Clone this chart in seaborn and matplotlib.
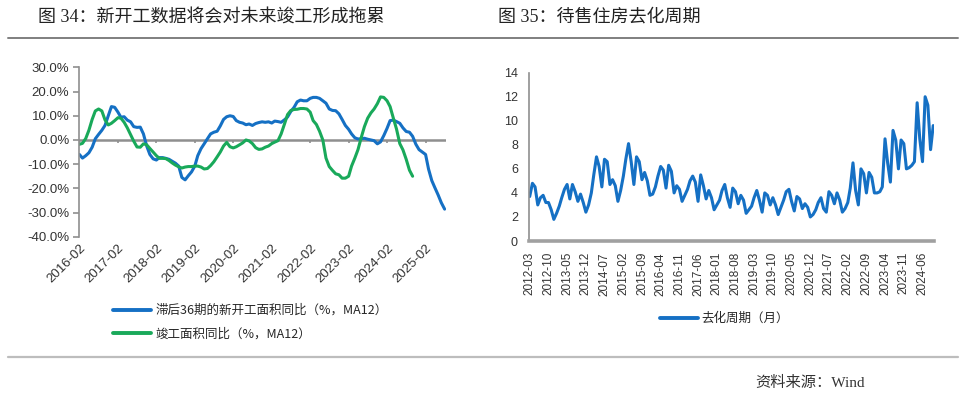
import numpy as np
import pandas as pd
import matplotlib
matplotlib.use("Agg")
import matplotlib.pyplot as plt
from matplotlib.lines import Line2D
import seaborn as sns

# 图34: monthly from 2016-02, % yoy (MA12)
newstart_lag36 = [
    -6.0, -7.5, -6.5, -5.3, -3.0, 0.5, 2.3, 4.0, 6.0, 10.0, 13.8, 13.5,
    11.5, 9.4, 9.6, 8.2, 7.5, 5.5, 5.2, 5.3, 2.5, -2.5, -6.0, -7.8,
    -8.3, -7.3, -7.3, -7.6, -8.0, -8.8, -9.6, -10.8, -15.5, -16.5, -14.8, -13.2,
    -10.8, -6.5, -3.6, -1.6, 0.5, 2.5, 3.2, 3.6, 5.8, 8.5, 9.6, 10.0,
    9.7, 8.0, 7.3, 7.0, 6.3, 6.6, 6.0, 6.8, 7.2, 7.5, 7.3, 7.5,
    7.0, 7.8, 7.6, 7.3, 8.3, 9.5, 11.8, 13.5, 15.8, 16.5, 16.2, 16.2,
    17.2, 17.6, 17.6, 17.2, 16.2, 15.2, 12.8, 12.2, 12.1, 10.8, 8.5, 6.0,
    4.4, 2.5, 0.9, 0.4, 0.5, 0.7, 0.3, 0.0, -0.3, -1.6, -0.8, 1.8,
    4.8, 8.0, 8.2, 7.6, 6.9, 5.0, 3.5, 3.2, 1.5, -1.8, -4.0, -5.0,
    -6.0, -12.0, -16.8, -19.8, -22.8, -26.0, -28.6,
]
completion_yoy = [
    -1.8, -1.4, 0.6, 4.0, 8.5, 12.0, 12.8, 12.0, 8.3, 6.2, 6.9, 8.0,
    9.2, 9.0, 7.3, 5.0, 2.2, -0.5, -2.9, -3.0, -1.6, -2.0, -3.5, -5.0,
    -6.5, -7.6, -7.6, -7.7, -8.5, -9.5, -10.4, -11.1, -11.6, -11.2, -11.0, -11.0,
    -10.8, -10.8, -11.2, -12.0, -11.8, -10.6, -9.0, -7.0, -5.0, -2.5, -1.0, -2.8,
    -3.3, -2.8, -2.0, -1.2, 0.0, -0.4, -1.5, -3.2, -3.9, -3.7, -3.0, -2.5,
    -1.5, -0.9, -0.3, 2.5, 6.5, 10.5, 12.2, 12.6, 12.7, 13.0, 13.0, 12.8,
    11.5, 8.0, 6.4, 3.6, 0.0, -7.5, -11.0, -12.6, -14.0, -14.4, -15.8, -15.8,
    -15.0, -10.8, -7.5, -4.0, 1.0, 5.5, 9.0, 11.2, 12.8, 15.0, 17.8, 17.6,
    16.2, 13.8, 9.0, 4.5, -1.5, -4.1, -8.0, -12.5, -15.0,
]
left_start = "2016-02"
left_ticks = ["2016-02", "2017-02", "2018-02", "2019-02", "2020-02",
              "2021-02", "2022-02", "2023-02", "2024-02", "2025-02"]
left_yticks = [-40, -30, -20, -10, 0, 10, 20, 30]

# 图35: monthly from 2012-03, months
destock_cycle = [
    3.7, 4.8, 4.5, 3.0, 3.6, 3.8, 3.2, 3.2, 2.6, 1.8, 2.3, 2.9,
    3.6, 4.3, 4.7, 3.5, 4.7, 4.1, 3.3, 3.9, 3.2, 2.4, 3.0, 4.0,
    5.5, 7.0, 6.2, 4.5, 6.8, 6.6, 4.7, 5.1, 4.6, 3.3, 4.2, 5.4,
    6.8, 8.1, 6.6, 4.7, 7.0, 6.6, 5.1, 5.7, 5.0, 3.8, 3.9, 4.5,
    5.4, 6.2, 5.9, 4.4, 6.3, 5.8, 4.0, 4.6, 4.3, 3.3, 3.8, 4.3,
    5.0, 5.4, 4.9, 3.3, 5.5, 4.6, 3.5, 4.2, 3.6, 2.6, 3.0, 3.4,
    4.2, 4.7, 3.6, 2.8, 4.4, 4.1, 3.1, 3.8, 3.4, 2.3, 2.6, 2.9,
    3.6, 4.2, 3.4, 2.4, 4.0, 3.8, 3.0, 3.6, 3.0, 2.2, 2.8, 3.4,
    4.1, 4.3, 3.3, 2.5, 3.7, 3.5, 2.7, 3.1, 2.8, 2.0, 2.2, 2.6,
    3.2, 3.6, 2.7, 2.4, 4.1, 3.8, 3.1, 4.0, 3.4, 2.4, 2.7, 3.2,
    4.4, 6.5, 4.2, 3.0, 6.0, 5.6, 4.0, 5.7, 5.3, 4.0, 4.0, 4.1,
    4.5, 8.5, 6.5, 4.9, 9.2, 8.4, 6.0, 8.4, 8.1, 6.0, 6.1, 6.3,
    6.6, 11.5, 8.5, 6.6, 12.0, 11.3, 7.6, 9.6,
]
right_start = "2012-03"
right_ticks = ["2012-03", "2012-10", "2013-05", "2013-12", "2014-07", "2015-02",
               "2015-09", "2016-04", "2016-11", "2017-06", "2018-01", "2018-08",
               "2019-03", "2019-10", "2020-05", "2020-12", "2021-07", "2022-02",
               "2022-09", "2023-04", "2023-11", "2024-06"]
right_yticks = [0, 2, 4, 6, 8, 10, 12, 14]

BLUE = "#1570c4"
GREEN = "#19a95a"
GREY = "#8f8f8f"
CJK = ["Noto Sans CJK SC", "DejaVu Sans"]
SERIF_CJK = ["Liberation Serif", "Noto Sans CJK SC"]

sns.set_theme(style="white")
plt.rcParams["font.family"] = ["Liberation Sans", "Noto Sans CJK SC"]

fig = plt.figure(figsize=(9.6, 4.0), dpi=100)

# ---------- left chart
ax1 = fig.add_axes([79 / 960, 1 - 236.7 / 400, (446 - 79) / 960, (236.7 - 67.4) / 400])
d1 = pd.DataFrame({"date": pd.date_range(left_start, periods=len(newstart_lag36), freq="MS"),
                   "val": newstart_lag36})
d2 = pd.DataFrame({"date": pd.date_range(left_start, periods=len(completion_yoy), freq="MS"),
                   "val": completion_yoy})
ax1.axhline(0, color=GREY, lw=1.8, zorder=1)
tick_dates = pd.to_datetime(left_ticks)
ax1.vlines(tick_dates, -1.3, 0, color=GREY, lw=1.2, zorder=1)
sns.lineplot(data=d1, x="date", y="val", ax=ax1, color=BLUE, lw=2.2,
             label="滞后36期的新开工面积同比（%，MA12）")
sns.lineplot(data=d2, x="date", y="val", ax=ax1, color=GREEN, lw=2.2,
             label="竣工面积同比（%，MA12）")
ax1.set_xlim(pd.Timestamp("2016-01-28"), pd.Timestamp("2025-08-14"))
ax1.set_ylim(-40, 30)
ax1.set_yticks(left_yticks)
ax1.set_yticklabels([f"{v:.1f}%" for v in left_yticks], fontsize=9.5, color="#333333")
ax1.set_xticks(tick_dates)
ax1.set_xticklabels(left_ticks, rotation=45, ha="right", rotation_mode="anchor",
                    fontsize=9.5, color="#333333")
ax1.tick_params(axis="x", length=0, pad=4)
ax1.tick_params(axis="y", length=4, width=1.2, color=GREY, pad=3, left=True)
for s in ["top", "right", "bottom"]:
    ax1.spines[s].set_visible(False)
ax1.spines["left"].set_color(GREY)
ax1.spines["left"].set_linewidth(1.2)
ax1.set_xlabel("")
ax1.set_ylabel("")
ax1.legend(loc="upper left", bbox_to_anchor=(113 / 960, 1 - 304 / 400),
           bbox_transform=fig.transFigure, frameon=False, borderpad=0, borderaxespad=0,
           handlelength=3.0, handletextpad=0.4, labelspacing=0.85,
           prop={"family": CJK, "size": 9})
for lh in ax1.get_legend().get_lines():
    lh.set_linewidth(2.8)

# ---------- right chart
ax2 = fig.add_axes([529 / 960, 1 - 241 / 400, (934 - 529) / 960, (241 - 72.7) / 400])
d3 = pd.DataFrame({"date": pd.date_range(right_start, periods=len(destock_cycle), freq="MS"),
                   "val": destock_cycle})
sns.lineplot(data=d3, x="date", y="val", ax=ax2, color=BLUE, lw=2.2, label="去化周期（月）")
ax2.set_xlim(pd.Timestamp("2012-02-22"), pd.Timestamp("2024-10-10"))
ax2.set_ylim(0, 14)
ax2.set_yticks(right_yticks)
ax2.set_yticklabels([str(v) for v in right_yticks], fontsize=9, color="#333333")
r_dates = pd.to_datetime(right_ticks)
ax2.set_xticks(r_dates)
ax2.set_xticklabels(right_ticks, rotation=90, fontsize=8.5, color="#333333")
ax2.tick_params(axis="both", length=0)
ax2.tick_params(axis="x", pad=8)
ax2.tick_params(axis="y", pad=8)
for s in ["top", "right"]:
    ax2.spines[s].set_visible(False)
ax2.spines["left"].set_color(GREY)
ax2.spines["left"].set_linewidth(1.2)
ax2.spines["bottom"].set_color("#a0a0a0")
ax2.spines["bottom"].set_linewidth(2.6)
ax2.set_xlabel("")
ax2.set_ylabel("")
ax2.legend(loc="upper left", bbox_to_anchor=(660 / 960, 1 - 312 / 400),
           bbox_transform=fig.transFigure, frameon=False, borderpad=0, borderaxespad=0,
           handlelength=3.0, handletextpad=0.3, prop={"family": CJK, "size": 9})
for lh in ax2.get_legend().get_lines():
    lh.set_linewidth(2.8)

# ---------- titles, rules, source
fig.text(38 / 960, 1 - 17 / 400, "图 34：新开工数据将会对未来竣工形成拖累",
         fontsize=13, va="center", family=SERIF_CJK, color="#222222")
fig.text(498 / 960, 1 - 17 / 400, "图 35：待售住房去化周期",
         fontsize=13, va="center", family=SERIF_CJK, color="#222222")
fig.add_artist(Line2D([8 / 960, 958 / 960], [1 - 38 / 400] * 2, color="#7f7f7f", lw=1.4))
fig.add_artist(Line2D([8 / 960, 958 / 960], [1 - 356.5 / 400] * 2, color="#bdbdbd", lw=1.6))
fig.text(755 / 960, 1 - 383 / 400, "资料来源：Wind", fontsize=11, va="center",
         family=SERIF_CJK, color="#333333")

fig.savefig("out.png", dpi=100)
